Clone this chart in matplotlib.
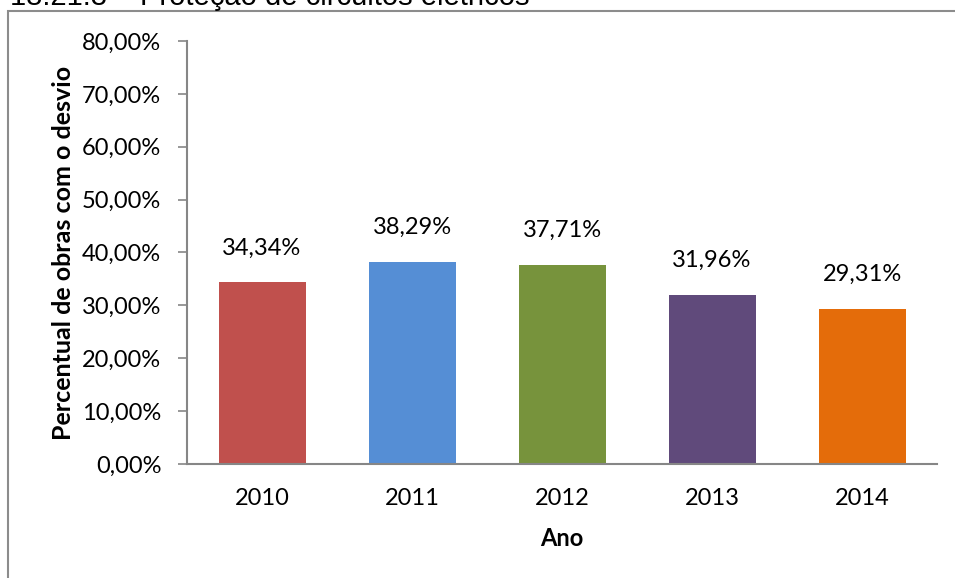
import matplotlib
matplotlib.use("Agg")
import matplotlib.pyplot as plt
from matplotlib.patches import Rectangle

anos = ["2010", "2011", "2012", "2013", "2014"]
percentuais = [34.34, 38.29, 37.71, 31.96, 29.31]
cores = ["#C0504D", "#558ED5", "#77933C", "#604A7B", "#E46C0A"]
yticks = [0, 10, 20, 30, 40, 50, 60, 70, 80]

plt.rcParams["font.family"] = ["Lato", "DejaVu Sans"]
cinza = "#868686"

fig = plt.figure(figsize=(9.55, 5.78), dpi=100)

# moldura do grafico (cortada na direita e embaixo)
fig.patches.append(Rectangle((8 / 955, -0.1), 1.1, 1 - 11 / 578 + 0.1,
                             transform=fig.transFigure, fill=False,
                             edgecolor="#8c8c8c", linewidth=1.5))

# titulo da secao, cortado no topo
fig.text(10 / 955, 1 - 5 / 578, "18.21.3 –",
         fontsize=21, family="Liberation Sans", va="baseline", ha="left")
fig.text(140 / 955, 1 - 5 / 578, "Proteção de circuitos elétricos",
         fontsize=21, family="Liberation Sans", va="baseline", ha="left")

ax = fig.add_axes([187 / 955, 1 - 464 / 578, (937 - 187) / 955, (464 - 41) / 578])
x = range(len(anos))
bars = ax.bar(x, percentuais, width=0.58, color=cores)

for b, v in zip(bars, percentuais):
    ax.annotate(f"{v:.2f}%".replace(".", ","),
                (b.get_x() + b.get_width() / 2, v),
                xytext=(0, 20), textcoords="offset points",
                ha="center", va="baseline", fontsize=17)

ax.set_xlim(-0.5, 4.5)
ax.set_ylim(0, 80)
ax.set_yticks(yticks)
ax.set_yticklabels([f"{t:.2f}%".replace(".", ",") for t in yticks], fontsize=17)
ax.set_xticks(list(x))
ax.set_xticklabels(anos, fontsize=17)
ax.tick_params(axis="y", length=6.5, color=cinza, pad=12, width=1.2)
ax.tick_params(axis="x", length=0, pad=17)

for s in ["top", "right"]:
    ax.spines[s].set_visible(False)
for s in ["left", "bottom"]:
    ax.spines[s].set_color(cinza)
    ax.spines[s].set_linewidth(1.5)

ax.set_ylabel("Percentual de obras com o desvio", fontsize=18, fontweight="bold")
ax.yaxis.set_label_coords(-(187 - 75) / 750, 0.5)
ax.set_xlabel("Ano", fontsize=17, fontweight="bold", labelpad=13)

fig.savefig("out.png", dpi=100)
